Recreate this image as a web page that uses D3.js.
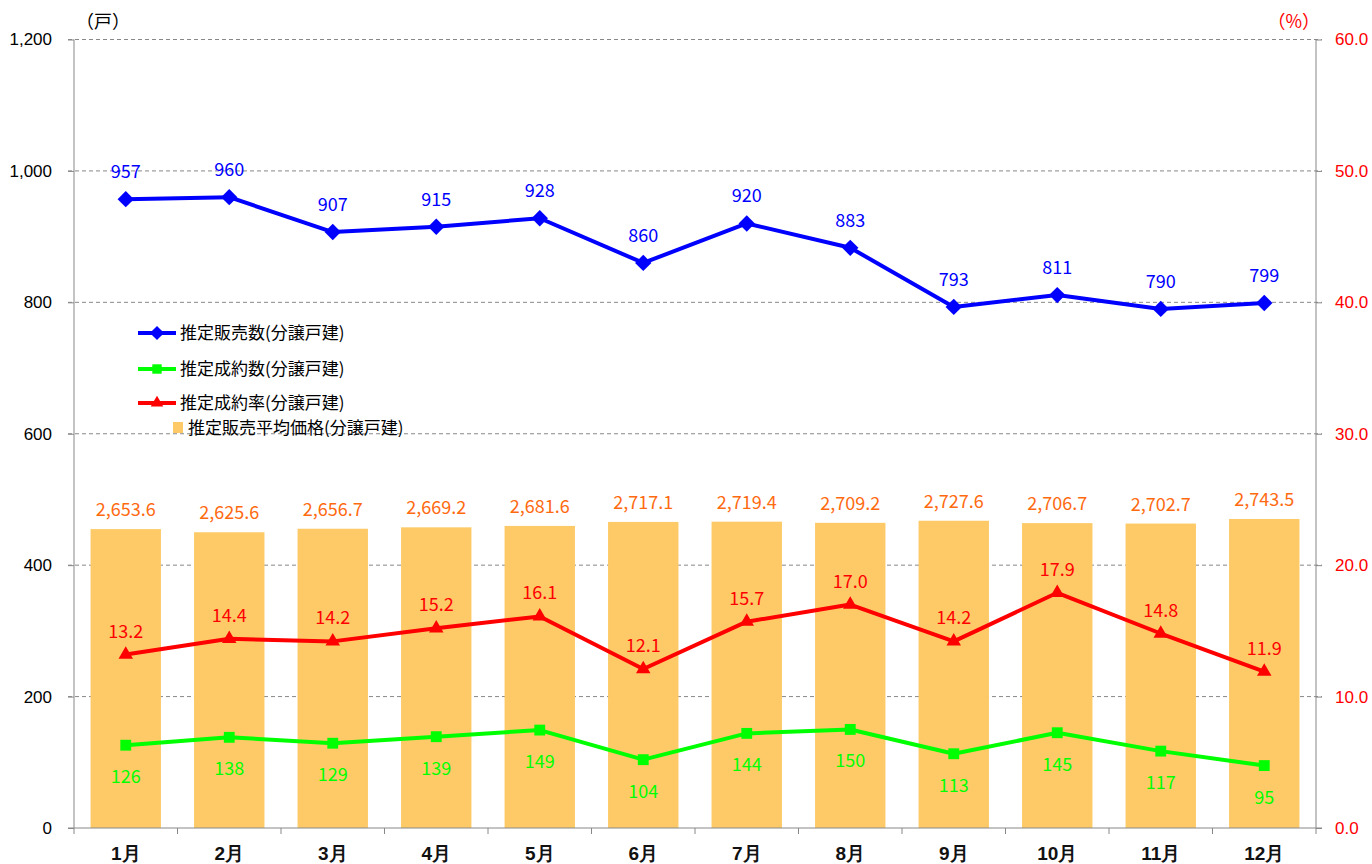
<!DOCTYPE html>
<html>
<head>
<meta charset="utf-8">
<script src="https://cdn.jsdelivr.net/npm/d3@7"></script>
<style>
  body { margin:0; background:#fff; }
  svg { display:block; font-family:"Noto Sans CJK JP","Noto Sans",sans-serif; }
</style>
</head>
<body>
<svg id="chart" width="1372" height="864"></svg>
<script>
// data
const months = ["1月","2月","3月","4月","5月","6月","7月","8月","9月","10月","11月","12月"];
const salesCount = [957,960,907,915,928,860,920,883,793,811,790,799];
const contractCount = [126,138,129,139,149,104,144,150,113,145,117,95];
const contractRate = [13.2,14.4,14.2,15.2,16.1,12.1,15.7,17.0,14.2,17.9,14.8,11.9];
const avgPrice = [2653.6,2625.6,2656.7,2669.2,2681.6,2717.1,2719.4,2709.2,2727.6,2706.7,2702.7,2743.5];
const leftTicks = [0,200,400,600,800,1000,1200];
const rightTicks = [0,10,20,30,40,50,60];

const margin = {top:39.5, right:56, bottom:36, left:74};
const width = 1372, height = 864;
const svg = d3.select("#chart");

const x = d3.scaleBand(months,[margin.left, width-margin.right]).paddingInner(0.32).paddingOuter(0.16);
const yL = d3.scaleLinear([0,1200],[height-margin.bottom, margin.top]);
const yR = d3.scaleLinear([0,60],[height-margin.bottom, margin.top]);
const yP = d3.scaleLinear([0,7000],[height-margin.bottom, margin.top]); // hidden price axis
const cx = d => x(d) + x.bandwidth()/2;

// grid
svg.append("g")
  .selectAll("line")
  .data(leftTicks.filter(d => d>0))
  .join("line")
    .attr("x1", margin.left-6).attr("x2", width-margin.right+6)
    .attr("y1", d => yL(d)).attr("y2", d => yL(d))
    .attr("stroke","#888").attr("stroke-dasharray","4,3");

// bars
svg.append("g")
  .selectAll("rect")
  .data(avgPrice)
  .join("rect")
    .attr("x",(d,i) => x(months[i]))
    .attr("width", x.bandwidth())
    .attr("y", d => yP(d))
    .attr("height", d => yP(0)-yP(d))
    .attr("fill","#FDCA67");

svg.append("g")
  .selectAll("text")
  .data(avgPrice)
  .join("text")
    .attr("x",(d,i) => cx(months[i]))
    .attr("y", d => yP(d)-13)
    .attr("text-anchor","middle")
    .attr("fill","#FF6A10")
    .attr("font-size",18)
    .text(d => d3.format(",.1f")(d));

// axes
const axL = svg.append("g")
  .attr("transform",`translate(${margin.left},0)`)
  .call(d3.axisLeft(yL).tickValues(leftTicks).tickSize(6).tickPadding(16).tickFormat(d3.format(",")));
axL.select(".domain").attr("stroke","#888").attr("d",`M0,${yL(1200)}V${yL(0)}`);
axL.selectAll(".tick line").attr("stroke","#888");
axL.selectAll("text").attr("font-size",17).attr("fill","#000").attr("font-family","Liberation Sans, Arial, sans-serif");

const axR = svg.append("g")
  .attr("transform",`translate(${width-margin.right},0)`)
  .call(d3.axisRight(yR).tickValues(rightTicks).tickSize(6).tickPadding(13).tickFormat(d3.format(".1f")));
axR.select(".domain").attr("stroke","#888").attr("d",`M0,${yR(60)}V${yR(0)}`);
axR.selectAll(".tick line").attr("stroke","#888");
axR.selectAll("text").attr("font-size",17).attr("fill","#FF0000").attr("font-family","Liberation Sans, Arial, sans-serif");

const axB = svg.append("g")
  .attr("transform",`translate(0,${yL(0)})`)
  .call(d3.axisBottom(x).tickSize(0).tickPadding(16));
axB.select(".domain").attr("stroke","#888").attr("d",`M${margin.left-6},0H${width-margin.right+6}`);
axB.selectAll("text").attr("font-size",19).attr("font-weight",600).attr("fill","#111").attr("dy","0.85em");
axB.append("g")
  .selectAll("line")
  .data(d3.range(months.length+1))
  .join("line")
    .attr("x1", i => margin.left + i*x.step()).attr("x2", i => margin.left + i*x.step())
    .attr("y1",0).attr("y2",6).attr("stroke","#888");

// unit labels
svg.append("text").attr("x",76).attr("y",28).attr("font-size",18).text("（戸）");
svg.append("text").attr("x",1320).attr("y",28).attr("font-size",18).attr("fill","#FF0000").attr("text-anchor","end").text("（%）");

// lines
const series = [
  {name:"推定販売数(分譲戸建)", values:salesCount, y:yL, color:"#0000FF", marker:d3.symbolDiamond2, size:170, dy:-21, fmt:d3.format("d")},
  {name:"推定成約数(分譲戸建)", values:contractCount, y:yL, color:"#00FF00", marker:d3.symbolSquare2, size:150, dy:38, fmt:d3.format("d")},
  {name:"推定成約率(分譲戸建)", values:contractRate, y:yR, color:"#FF0000", marker:d3.symbolTriangle2, size:150, dy:-17, fmt:d3.format(".1f")}
];

series.forEach(s => {
  const line = d3.line().x((d,i) => cx(months[i])).y(d => s.y(d));
  svg.append("path")
    .datum(s.values)
    .attr("d", line)
    .attr("fill","none")
    .attr("stroke", s.color)
    .attr("stroke-width",4)
    .attr("stroke-linejoin","round");
  svg.append("g")
    .selectAll("path")
    .data(s.values)
    .join("path")
      .attr("transform",(d,i) => `translate(${cx(months[i])},${s.y(d)})`)
      .attr("d", d3.symbol(s.marker, s.size))
      .attr("fill", s.color);
  svg.append("g")
    .selectAll("text")
    .data(s.values)
    .join("text")
      .attr("x",(d,i) => cx(months[i]))
      .attr("y", d => s.y(d)+s.dy)
      .attr("text-anchor","middle")
      .attr("fill", s.color)
      .attr("font-size",18)
      .text(d => s.fmt(d));
});

// legend
const legend = svg.append("g");
const legendRows = [333, 369, 403];
series.forEach((s,i) => {
  const g = legend.append("g").attr("transform",`translate(138,${legendRows[i]})`);
  g.append("line").attr("x1",0).attr("x2",38).attr("stroke",s.color).attr("stroke-width",4);
  g.append("path").attr("transform","translate(19,0)").attr("d", d3.symbol(s.marker, s.size*0.75)).attr("fill", s.color);
  g.append("text").attr("x",42).attr("dy","0.35em").attr("font-size",17).text(s.name);
});
const lb = legend.append("g").attr("transform","translate(173,428)");
lb.append("rect").attr("x",0).attr("y",-6).attr("width",10).attr("height",11).attr("fill","#FDCA67");
lb.append("text").attr("x",15).attr("dy","0.35em").attr("font-size",17).text("推定販売平均価格(分譲戸建)");
</script>
</body>
</html>
